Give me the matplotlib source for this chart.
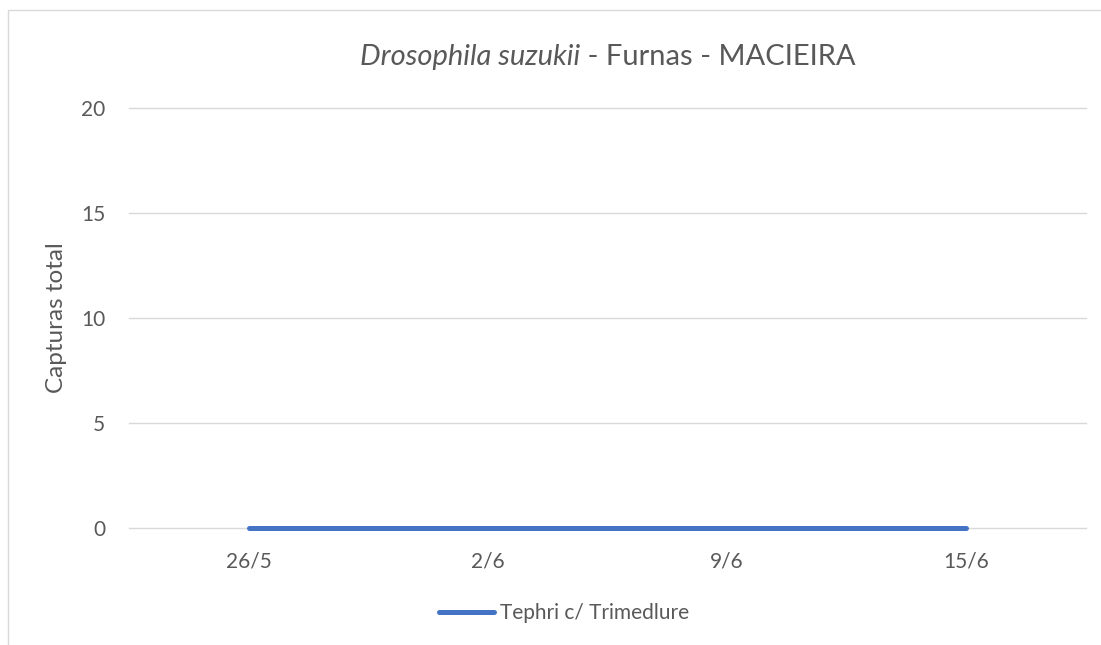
import matplotlib
matplotlib.use("Agg")
import matplotlib.pyplot as plt
from matplotlib.patches import Rectangle

categories = ["26/5", "2/6", "9/6", "15/6"]
values = [0, 0, 0, 0]
series_name = "Tephri c/ Trimedlure"
yticks = [0, 5, 10, 15, 20]
title_italic = "Drosophila suzukii"
title_rest = " - Furnas - MACIEIRA"
ylabel = "Capturas total"

W, H = 1101, 645
FONT = ["Lato", "DejaVu Sans"]
TXT = "#595959"
plt.rcParams["font.family"] = FONT

fig = plt.figure(figsize=(W / 100, H / 100), dpi=100)
fig.patch.set_facecolor("white")

# outer chart border
fig.patches.append(Rectangle((8 / W, -0.1), 1.2, 1.1 - 10 / H, transform=fig.transFigure,
                             fill=False, edgecolor="#D9D9D9", linewidth=1.0))

left, right = 129 / W, 1086 / W
bottom, top = (H - 528) / H, (H - 108) / H
ax = fig.add_axes([left, bottom, right - left, top - bottom])
x = list(range(len(categories)))
line, = ax.plot(x, values, color="#4472C4", linewidth=3.6, solid_capstyle="round",
                label=series_name, zorder=3, clip_on=False)
ax.set_xlim(-0.5, len(categories) - 0.5)
ax.set_ylim(0, 20)
ax.set_yticks(yticks)
ax.set_xticks(x)
ax.set_xticklabels(categories)
ax.grid(axis="y", color="#D9D9D9", linewidth=1.0)
ax.set_axisbelow(True)
for gl in ax.get_ygridlines():
    gl.set_clip_on(False)
for s in ax.spines.values():
    s.set_visible(False)
ax.tick_params(axis="both", length=0, colors=TXT, labelsize=15)
ax.tick_params(axis="y", pad=17)
ax.tick_params(axis="x", pad=17)
ax.set_ylabel(ylabel, fontsize=17.5, color=TXT, labelpad=10)

# title: italic + regular parts, centered over plot area
fig.canvas.draw()
r = fig.canvas.get_renderer()
t1 = fig.text(0, 0, title_italic, fontsize=21, color=TXT, style="italic")
t2 = fig.text(0, 0, title_rest, fontsize=21, color=TXT)
w1 = t1.get_window_extent(r).width
w2 = t2.get_window_extent(r).width
cx = (129 + 1086) / 2
x0 = cx - (w1 + w2) / 2
yb = 1 - 65 / H
t1.set_position((x0 / W, yb))
t1.set_va("baseline")
t2.set_position(((x0 + w1) / W, yb))
t2.set_va("baseline")

leg = fig.legend(handles=[line], labels=[series_name], loc="center",
                 bbox_to_anchor=(564 / W, 1 - 613 / H), frameon=False,
                 fontsize=15, handlelength=2.65, handletextpad=0.3, labelcolor=TXT)

fig.savefig("out.png", dpi=100, facecolor="white")
